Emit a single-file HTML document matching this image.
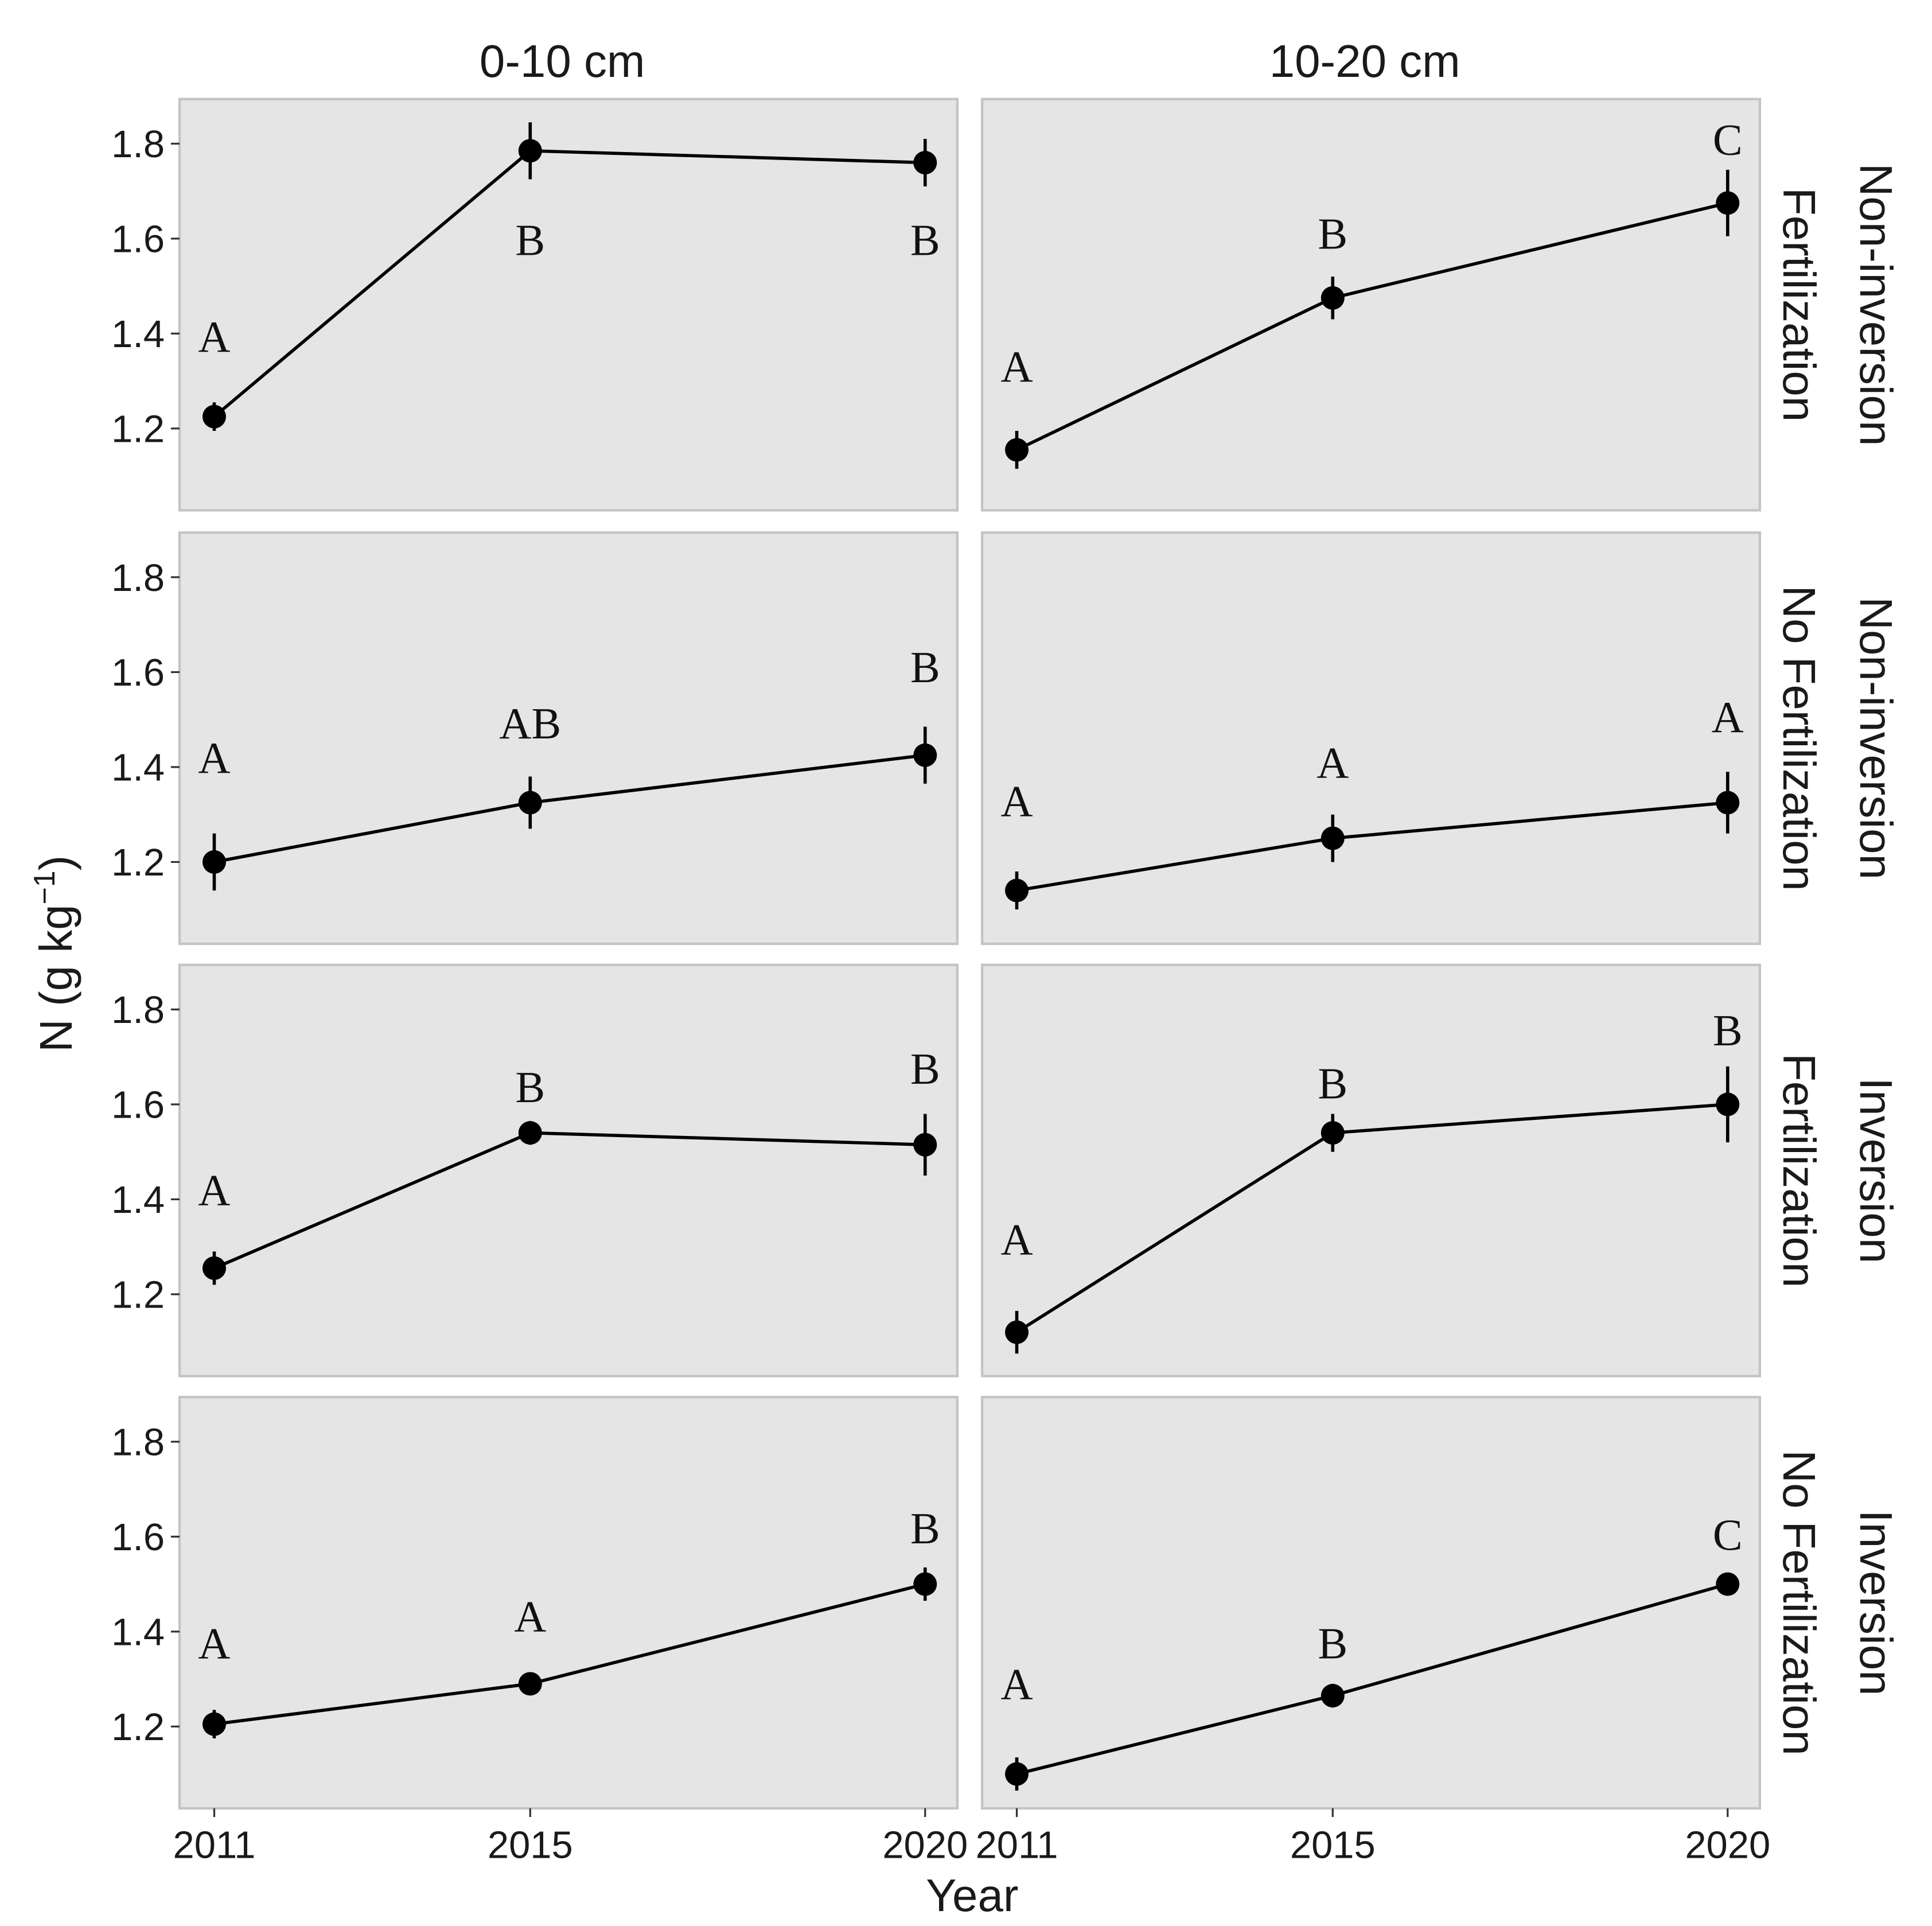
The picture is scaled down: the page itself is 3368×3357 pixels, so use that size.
<!DOCTYPE html>
<html><head><meta charset="utf-8"><style>
html,body{margin:0;padding:0;background:#fff}
svg{display:block}
.tick{font-family:"Liberation Sans",sans-serif;font-size:31px;fill:#1a1a1a}
.strip{font-family:"Liberation Sans",sans-serif;font-size:37px;fill:#1a1a1a}
.lab{font-family:"Liberation Serif",serif;font-size:36px;fill:#111}
</style></head><body>
<svg id="chart" width="3368" height="3357" viewBox="0 0 1560 1555" preserveAspectRatio="none" xmlns="http://www.w3.org/2000/svg">
<g id="root"></g>
</svg>
<script>
const years = [2011, 2015, 2020];
const yTicks = [1.2, 1.4, 1.6, 1.8];
const colTitles = ["0-10 cm", "10-20 cm"];
const rowTitles = [["Non-inversion","Fertilization"],["Non-inversion","No Fertilization"],["Inversion","Fertilization"],["Inversion","No Fertilization"]];
const means = [
 [[1.225,1.785,1.76],[1.155,1.475,1.675]],
 [[1.2,1.325,1.425],[1.14,1.25,1.325]],
 [[1.255,1.54,1.515],[1.12,1.54,1.6]],
 [[1.205,1.29,1.5],[1.1,1.265,1.5]]
];
const errors = [
 [[0.03,0.06,0.05],[0.04,0.045,0.07]],
 [[0.06,0.055,0.06],[0.04,0.05,0.065]],
 [[0.035,0.025,0.065],[0.045,0.04,0.08]],
 [[0.03,0.02,0.035],[0.035,0.025,0.02]]
];
const letters = [
 [["A","B","B"],["A","B","C"]],
 [["A","AB","B"],["A","A","A"]],
 [["A","B","B"],["A","B","B"]],
 [["A","A","B"],["A","B","C"]]
];
const letterPos = [
 [[1.393,1.597,1.597],[1.330,1.610,1.808]],
 [[1.419,1.492,1.610],[1.328,1.409,1.505]],
 [[1.419,1.636,1.675],[1.315,1.644,1.756]],
 [[1.375,1.432,1.617],[1.289,1.375,1.604]]
];
const NS="http://www.w3.org/2000/svg";
const root=document.getElementById('root');
function mk(tag,attrs,parent){const e=document.createElementNS(NS,tag);for(const k in attrs)e.setAttribute(k,attrs[k]);(parent||root).appendChild(e);return e;}
const colX=[145,793], panelW=628, rowY=[80,430,779,1128], panelH=332;
function xs(c,yr){return colX[c]+28+(yr-2011)*(574/9);}
function ys(r,v){return rowY[r]+36+(1.8-v)*(76.65/0.2);}
for(let r=0;r<4;r++){for(let c=0;c<2;c++){
 const g=mk('g',{});
 
 
 mk('rect',{x:colX[c],y:rowY[r],width:panelW,height:panelH,fill:'#e5e5e5',stroke:'#c4c4c4','stroke-width':2},g);
 if(c===0){yTicks.forEach(t=>{
  mk('line',{x1:colX[0]-7,x2:colX[0],y1:ys(r,t),y2:ys(r,t),stroke:'#333','stroke-width':1.5},g);
  const tx=mk('text',{x:colX[0]-12,y:ys(r,t)+11,'text-anchor':'end',class:'tick'},g);tx.textContent=t.toFixed(1);
  
 });}
 const pts=years.map((y,i)=>xs(c,y)+','+ys(r,means[r][c][i])).join(' ');
 const pl=mk('polyline',{points:pts,fill:'none',stroke:'#000','stroke-width':2.6},g);
 
 years.forEach((y,i)=>{
  const m=means[r][c][i],e=errors[r][c][i],x=xs(c,y);
  mk('line',{x1:x,x2:x,y1:ys(r,m-e),y2:ys(r,m+e),stroke:'#000','stroke-width':2.6},g);
  const p=mk('circle',{cx:x,cy:ys(r,m),r:9.5,fill:'#000'},g);
  
  const t=mk('text',{x:x,y:ys(r,letterPos[r][c][i])+12,'text-anchor':'middle',class:'lab'},g);
  t.textContent=letters[r][c][i];
  
 });
 if(r===3){years.forEach(y=>{
  mk('line',{x1:xs(c,y),x2:xs(c,y),y1:rowY[3]+panelH,y2:rowY[3]+panelH+7,stroke:'#333','stroke-width':1.5},g);
  const tx=mk('text',{x:xs(c,y),y:1500,'text-anchor':'middle',class:'tick'},g);tx.textContent=y;
  
 });}
}
 const rt=rowTitles[r], cy=rowY[r]+panelH/2;
 [0,1].forEach(k=>{
  const t=mk('text',{x:0,y:0,'text-anchor':'middle',class:'strip',transform:'translate('+(k===0?1502:1440)+','+cy+') rotate(90)'});
  t.textContent=rt[k];
  
 });
}
colTitles.forEach((s,c)=>{const t=mk('text',{x:colX[c]+panelW/2-5,y:62,'text-anchor':'middle',class:'strip'});t.textContent=s;
 });
const yt=mk('text',{x:0,y:0,'text-anchor':'middle',class:'strip',transform:'translate(58,770) rotate(-90)'});
yt.innerHTML='N (g kg<tspan dy="-14" font-size="24">−1</tspan><tspan dy="14">)</tspan>';

const xt=mk('text',{x:785,y:1543,'text-anchor':'middle',class:'strip'});xt.textContent='Year';

</script>
</body></html>
